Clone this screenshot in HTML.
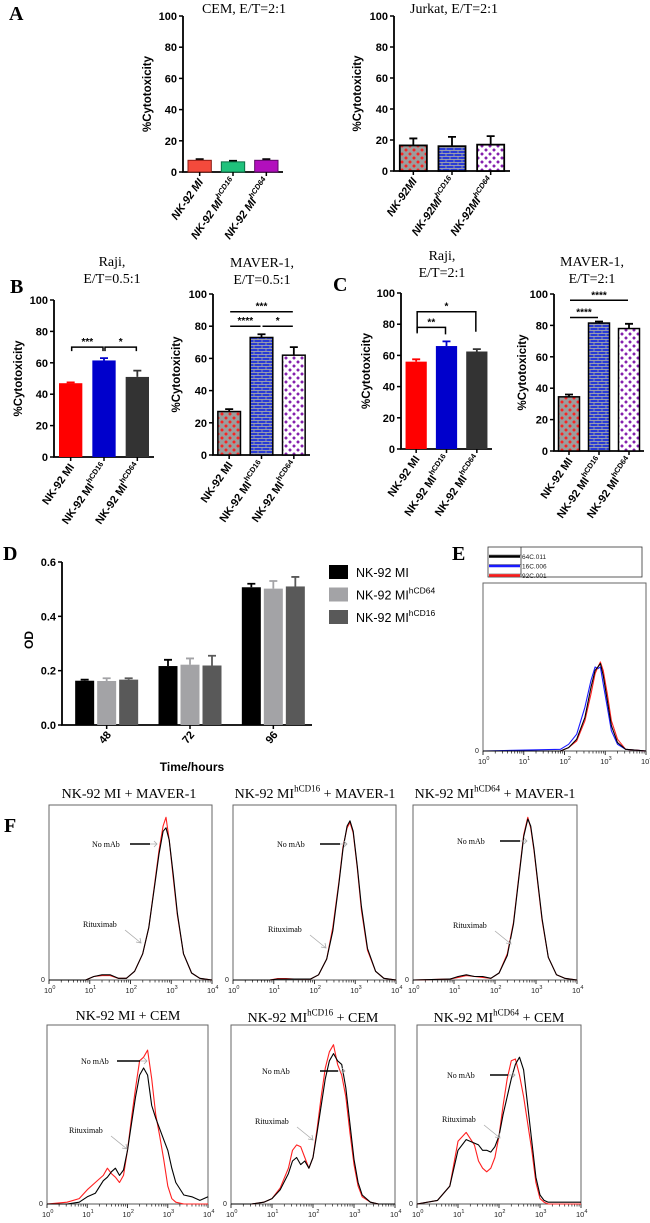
<!DOCTYPE html>
<html><head><meta charset="utf-8"><style>
html,body{margin:0;padding:0;background:#fff}
svg{display:block}
text{font-family:"Liberation Sans",sans-serif}
.serif{font-family:"Liberation Serif",serif}
</style></head><body>
<svg id="fig" width="650" height="1223" viewBox="0 0 650 1223" xmlns="http://www.w3.org/2000/svg">
<defs>
<pattern id="pRed" width="8" height="8" patternUnits="userSpaceOnUse"><rect width="8" height="8" fill="#9c9c9c"/><path d="M2 0.5v3M0.5 2h3M6 4.5v3M4.5 6h3" stroke="#ff1a1a" stroke-width="1.4"/></pattern>
<pattern id="pBlue" width="8" height="6" patternUnits="userSpaceOnUse"><rect width="8" height="6" fill="#2a3bd6"/><path d="M0 0.5h8M0 3.5h8M2 0.5v3M6 3.5v3" stroke="#b9b9a0" stroke-width="0.7"/></pattern>
<pattern id="pPurple" width="8" height="8" patternUnits="userSpaceOnUse"><rect width="8" height="8" fill="#fff"/><path d="M2 0.5v3M0.5 2h3M6 4.5v3M4.5 6h3" stroke="#7d12a8" stroke-width="1.5"/></pattern>
</defs>
</svg>
<script>
// ---------- DATA ----------
const barCats = ['NK-92 MI','NK-92 MI','NK-92 MI'];
const barSups = ['','hCD16','hCD64'];
const aCemVals = [7.5, 6.5, 7.5];
const aCemErrs = [8.2, 7.2, 8.2];
const aJurVals = [16.5, 16, 17];
const aJurErrs = [21, 22, 22.5];
const bRajiVals = [47, 61.5, 51];
const bRajiErrs = [47.5, 63, 55];
const bMavVals = [27, 73, 62];
const bMavErrs = [28.5, 75, 67];
const cRajiVals = [56, 66, 62.5];
const cRajiErrs = [57.5, 69, 64];
const cMavVals = [34.5, 81.5, 78];
const cMavErrs = [36, 82.5, 81];
const pctTicks = [0, 20, 40, 60, 80, 100];

const dTimes = ['48','72','96'];
const dSeries = ['NK-92 MI','NK-92 MI','NK-92 MI'];
const dSeriesSup = ['','hCD64','hCD16'];
const dMI = [0.163, 0.217, 0.507];
const dCD64 = [0.162, 0.222, 0.502];
const dCD16 = [0.167, 0.219, 0.510];
const dMIerr = [0.167, 0.240, 0.520];
const dCD64err = [0.172, 0.245, 0.530];
const dCD16err = [0.172, 0.255, 0.545];
const odTicks = [0, 0.2, 0.4, 0.6];

const eX = [0,1.9,2.1,2.3,2.5,2.65,2.75,2.82,2.88,2.95,3.05,3.15,3.3,3.5,4];
const eBlack = [0,0,0.02,0.07,0.2,0.38,0.48,0.5,0.52,0.45,0.3,0.15,0.05,0.01,0];
const eBlue = [0,0.01,0.04,0.1,0.26,0.42,0.5,0.49,0.5,0.4,0.26,0.12,0.04,0.01,0];
const eRed = [0,0,0.02,0.06,0.18,0.34,0.46,0.5,0.53,0.48,0.34,0.18,0.07,0.01,0];
const eLegend = ['64C.011','16C.006','92C.001'];

const fTopX = [0,0.9,1.1,1.3,1.5,1.7,1.9,2.1,2.3,2.45,2.6,2.7,2.8,2.87,2.95,3.05,3.15,3.3,3.5,3.7,4];
const f1Black = [0,0,0.02,0.03,0.03,0.01,0.01,0.05,0.15,0.3,0.55,0.72,0.85,0.87,0.8,0.6,0.38,0.15,0.04,0.01,0];
const f1Red = [0,0,0.02,0.025,0.025,0.01,0.01,0.05,0.15,0.3,0.56,0.74,0.88,0.93,0.8,0.58,0.37,0.15,0.04,0.01,0];
const f2Black = [0,0,0.005,0.005,0.005,0.005,0.005,0.03,0.12,0.28,0.55,0.75,0.88,0.91,0.85,0.65,0.42,0.18,0.05,0.01,0];
const f2Red = [0,0,0.008,0.008,0.006,0.005,0.005,0.03,0.12,0.3,0.56,0.76,0.87,0.9,0.84,0.64,0.4,0.17,0.05,0.01,0];
const f3Black = [0,0.005,0.02,0.03,0.02,0.02,0.01,0.04,0.14,0.32,0.62,0.82,0.92,0.88,0.75,0.55,0.35,0.13,0.03,0.01,0];
const f3Red = [0,0.005,0.015,0.025,0.02,0.015,0.01,0.04,0.15,0.33,0.63,0.83,0.93,0.87,0.74,0.54,0.34,0.13,0.03,0.01,0];
const fBotX = [0,0.5,0.8,1.0,1.2,1.4,1.5,1.6,1.7,1.8,1.9,2.0,2.1,2.2,2.3,2.4,2.5,2.6,2.7,2.8,2.9,3.0,3.1,3.2,3.4,3.6,3.8,4];
const f4Black = [0,0,0.01,0.04,0.06,0.13,0.15,0.18,0.2,0.16,0.19,0.3,0.45,0.6,0.72,0.76,0.72,0.55,0.48,0.42,0.36,0.3,0.2,0.12,0.05,0.04,0.02,0.04];
const f4Red = [0,0.01,0.03,0.08,0.12,0.16,0.2,0.17,0.15,0.12,0.16,0.3,0.48,0.65,0.8,0.82,0.86,0.7,0.5,0.38,0.25,0.1,0.03,0.01,0,0,0,0];
const f5Black = [0,0,0.01,0.03,0.08,0.17,0.24,0.26,0.22,0.24,0.2,0.26,0.4,0.55,0.7,0.8,0.84,0.8,0.78,0.65,0.45,0.25,0.12,0.05,0.01,0,0,0];
const f5Red = [0,0,0.01,0.03,0.09,0.2,0.3,0.33,0.32,0.26,0.2,0.26,0.42,0.6,0.76,0.85,0.89,0.78,0.72,0.6,0.4,0.22,0.1,0.04,0.01,0,0,0];
const f6Black = [0,0.02,0.1,0.3,0.36,0.34,0.33,0.3,0.3,0.29,0.32,0.38,0.5,0.6,0.7,0.78,0.82,0.75,0.55,0.35,0.15,0.05,0.02,0.01,0.01,0.01,0.01,0.01];
const f6Red = [0,0.02,0.1,0.35,0.4,0.33,0.24,0.2,0.18,0.2,0.26,0.38,0.55,0.7,0.8,0.81,0.72,0.6,0.45,0.3,0.12,0.03,0.01,0,0,0,0,0];

// ---------- HELPERS ----------
const svg = document.getElementById('fig');
const NS = 'http://www.w3.org/2000/svg';
function el(tag, attrs, parent) {
  const e = document.createElementNS(NS, tag);
  for (const k in attrs) e.setAttribute(k, attrs[k]);
  (parent || svg).appendChild(e);
  return e;
}
function txt(str, attrs, parent) {
  const t = el('text', attrs, parent);
  t.textContent = str;
  return t;
}
function supText(base, sup, attrs, supSize, parent) {
  const t = el('text', attrs, parent);
  const a = document.createElementNS(NS, 'tspan'); a.textContent = base; t.appendChild(a);
  if (sup) {
    const b = document.createElementNS(NS, 'tspan');
    b.setAttribute('font-size', supSize);
    b.setAttribute('dy', -supSize * 0.7);
    b.textContent = sup; t.appendChild(b);
  }
  return t;
}
function panelLetter(l, x, y) {
  const t = txt(l, {x: x, y: y, 'font-size': 20, 'font-weight': 'bold', class: 'serif'});
  
  
}

// ---------- BAR CHARTS ----------
function barChart(cfg) {
  const g = el('g', {});
  
  
  const y = v => cfg.y0 - (v / 100) * (cfg.y0 - cfg.y100);
  const band = (cfg.x1 - cfg.x0) / cfg.vals.length;
  const cx = i => cfg.x0 + band * (i + 0.5);
  cfg.title.forEach((line, i) => {
    const t = txt(line, {x: cfg.tx, y: cfg.ty + i * 17, 'font-size': 14, 'text-anchor': 'middle', class: 'serif'}, g);
    
    
  });
  const axis = el('path', {d: `M${cfg.x0} ${cfg.y100}V${cfg.y0}H${cfg.x1}`, fill: 'none', stroke: '#000', 'stroke-width': 1.8}, g);
  
  
  pctTicks.forEach(v => {
    el('line', {x1: cfg.x0 - 4, x2: cfg.x0, y1: y(v), y2: y(v), stroke: '#000', 'stroke-width': 1.5}, g);
    const t = txt(String(v), {x: cfg.x0 - 6, y: y(v) + 4, 'font-size': 11, 'font-weight': 'bold', 'text-anchor': 'end'}, g);
    
    
  });
  const yl = txt('%Cytotoxicity', {x: 0, y: 0, 'font-size': 11.5, 'font-weight': 'bold', 'text-anchor': 'middle', transform: `translate(${cfg.ylx},${(cfg.y0 + cfg.y100) / 2}) rotate(-90)`}, g);
  
  
  const w = band * 0.7;
  cfg.vals.forEach((v, i) => {
    const eb = el('path', {d: `M${cx(i)} ${y(v)}V${y(cfg.errs[i])}M${cx(i) - 4} ${y(cfg.errs[i])}H${cx(i) + 4}`, stroke: cfg.errColor ? cfg.errColor[i] : '#000', 'stroke-width': 1.8, fill: 'none'}, g);
    
    
    const r = el('rect', {x: cx(i) - w / 2, y: y(v), width: w, height: y(0) - y(v), fill: cfg.fills[i], stroke: cfg.stroke ? cfg.stroke[i] : 'none', 'stroke-width': cfg.sw || 1.5}, g);
    
    
    el('line', {x1: cx(i), x2: cx(i), y1: cfg.y0, y2: cfg.y0 + 4, stroke: '#000', 'stroke-width': 1.5}, g);
    const base = cfg.noSpace ? barCats[i].replace(' MI', 'MI') : barCats[i];
    const lab = supText(base, barSups[i], {x: 0, y: 0, 'font-size': 11, 'font-weight': 'bold', 'font-style': cfg.italic ? 'italic' : 'normal', 'text-anchor': 'end', transform: `translate(${cx(i) + 4},${cfg.y0 + 10}) rotate(-55)`}, 7.5, g);
    
    
  });
  (cfg.sig || []).forEach(s => {
    const [i, j, val, label, legL, legR] = s;
    const yy = y(val);
    const xa = cx(i) + 1, xb = cx(j) - 1;
    const br = el('path', {d: `M${xa} ${yy + legL}V${yy}H${xb}V${yy + legR}`, fill: 'none', stroke: '#000', 'stroke-width': 1.5}, g);
    
    
    const st = txt(label, {x: (xa + xb) / 2, y: yy - 2, 'font-size': 10, 'font-weight': 'bold', 'text-anchor': 'middle'}, g);
    
    
  });
}

panelLetter('A', 9, 20);
barChart({name: 'cem-chart', x0: 183, x1: 283, y100: 16, y0: 172, vals: aCemVals, errs: aCemErrs, fills: ['#f44a3c', '#1fc27c', '#b20fbd'], stroke: ['#8a1c14', '#0b6e44', '#5e0a66'], sw: 1, italic: true, title: ['CEM, E/T=2:1'], tx: 244, ty: 13, ylx: 151});
barChart({name: 'jurkat-chart', x0: 394, x1: 510, y100: 16, y0: 171, vals: aJurVals, errs: aJurErrs, fills: ['url(#pRed)', 'url(#pBlue)', 'url(#pPurple)'], stroke: ['#000', '#000', '#000'], sw: 1.8, italic: true, noSpace: true, title: ['Jurkat, E/T=2:1'], tx: 454, ty: 13, ylx: 361});

panelLetter('B', 10, 293);
barChart({name: 'raji-b-chart', x0: 54, x1: 154, y100: 300, y0: 457, vals: bRajiVals, errs: bRajiErrs, fills: ['#ff0000', '#0000cc', '#333333'], errColor: ['#ff0000', '#0000cc', '#333'], title: ['Raji,', 'E/T=0.5:1'], tx: 112, ty: 266, ylx: 22,
  sig: [[0, 1, 70, '***', 4, 4], [1, 2, 70, '*', 4, 4]]});
barChart({name: 'maver-b-chart', x0: 213, x1: 310, y100: 294, y0: 455, vals: bMavVals, errs: bMavErrs, fills: ['url(#pRed)', 'url(#pBlue)', 'url(#pPurple)'], stroke: ['#000', '#000', '#000'], title: ['MAVER-1,', 'E/T=0.5:1'], tx: 262, ty: 267, ylx: 180,
  sig: [[0, 2, 89, '***', 0, 0], [0, 1, 80, '****', 0, 0], [1, 2, 80, '*', 0, 0]]});
panelLetter('C', 333, 291);
barChart({name: 'raji-c-chart', x0: 401, x1: 492, y100: 293, y0: 449, vals: cRajiVals, errs: cRajiErrs, fills: ['#ff0000', '#0000cc', '#333333'], errColor: ['#ff0000', '#0000cc', '#333'], title: ['Raji,', 'E/T=2:1'], tx: 442, ty: 260, ylx: 370,
  sig: [[0, 2, 88, '*', 20, 20], [0, 1, 78, '**', 6, 7]]});
barChart({name: 'maver-c-chart', x0: 554, x1: 644, y100: 294, y0: 451, vals: cMavVals, errs: cMavErrs, fills: ['url(#pRed)', 'url(#pBlue)', 'url(#pPurple)'], stroke: ['#000', '#000', '#000'], title: ['MAVER-1,', 'E/T=2:1'], tx: 592, ty: 266, ylx: 526,
  sig: [[0, 2, 96, '****', 0, 0], [0, 1, 85, '****', 0, 0]]});

// ---------- PANEL D ----------
panelLetter('D', 3, 560);
(function () {
  const g = el('g', {});
  
  
  const x0 = 62, x1 = 312, yTop = 562, y0 = 725;
  const y = v => y0 - v / 0.6 * (y0 - yTop);
  const band = (x1 - x0) / dTimes.length;
  const gc = i => x0 + band * (i + 0.5) + 3;
  const series = [dMI, dCD64, dCD16];
  const errs = [dMIerr, dCD64err, dCD16err];
  const cols = ['#000000', '#a3a3a6', '#595959'];
  const ax = el('path', {d: `M${x0} ${yTop}V${y0}H${x1}`, fill: 'none', stroke: '#000', 'stroke-width': 1.8}, g);
  
  
  odTicks.forEach(v => {
    el('line', {x1: x0 - 4, x2: x0, y1: y(v), y2: y(v), stroke: '#000', 'stroke-width': 1.5}, g);
    const t = txt(v.toFixed(1), {x: x0 - 6, y: y(v) + 4, 'font-size': 11, 'font-weight': 'bold', 'text-anchor': 'end'}, g);
    
    
  });
  const bw = 19, step = 22;
  dTimes.forEach((tm, i) => {
    series.forEach((s, k) => {
      const cx = gc(i) + (k - 1) * step;
      const eb = el('path', {d: `M${cx} ${y(s[i])}V${y(errs[k][i])}M${cx - 4} ${y(errs[k][i])}H${cx + 4}`, stroke: cols[k], 'stroke-width': 1.8, fill: 'none'}, g);
      
      
      const r = el('rect', {x: cx - bw / 2, y: y(s[i]), width: bw, height: y0 - y(s[i]), fill: cols[k]}, g);
      
      
    });
    el('line', {x1: gc(i), x2: gc(i), y1: y0, y2: y0 + 4, stroke: '#000', 'stroke-width': 1.5}, g);
    const t = txt(tm, {x: 0, y: 0, 'font-size': 11, 'font-weight': 'bold', 'text-anchor': 'end', transform: `translate(${gc(i) + 5},${y0 + 10}) rotate(-50)`}, g);
    
    
  });
  const xt = txt('Time/hours', {x: 192, y: 771, 'font-size': 12, 'font-weight': 'bold', 'text-anchor': 'middle'}, g);
  
  
  const yt = txt('OD', {x: 0, y: 0, 'font-size': 12, 'font-weight': 'bold', 'text-anchor': 'middle', transform: 'translate(33,640) rotate(-90)'}, g);
  
  
  dSeries.forEach((s, k) => {
    const ly = 572 + k * 22.5;
    const sw = el('rect', {x: 329, y: ly - 7, width: 19, height: 14, fill: cols[k]}, g);
    
    
    const lt = supText(s, dSeriesSup[k], {x: 356, y: ly + 5, 'font-size': 12.5}, 8.5, g);
    
    
  });
})();

// ---------- FLOW HISTOGRAMS ----------
function logAxis(g, x0, x1, yb) {
  const X = l => x0 + (l / 4) * (x1 - x0);
  el('line', {x1: x0, x2: x1, y1: yb, y2: yb, stroke: '#555', 'stroke-width': 1}, g);
  for (let d = 0; d <= 4; d++) {
    el('line', {x1: X(d), x2: X(d), y1: yb, y2: yb + 4, stroke: '#333', 'stroke-width': 1}, g);
    const t = supText('10', String(d), {x: X(d) - 5, y: yb + 13, 'font-size': 7.5, fill: '#222'}, 5.5, g);
    
    
    if (d < 4) for (let m = 2; m <= 9; m++) {
      const xm = X(d + Math.log10(m));
      el('line', {x1: xm, x2: xm, y1: yb, y2: yb + 2.5, stroke: '#333', 'stroke-width': 0.8}, g);
    }
  }
  const z = txt('0', {x: x0 - 8, y: yb + 2, 'font-size': 7, fill: '#222'}, g);
  
  
}
function curve(g, xs, ys, x0, x1, yb, h, color, name) {
  const pts = xs.map((l, i) => (x0 + l / 4 * (x1 - x0)).toFixed(1) + ',' + (yb - ys[i] * h).toFixed(1)).join(' ');
  const p = el('polyline', {points: pts, fill: 'none', stroke: color, 'stroke-width': 1.1, 'stroke-linejoin': 'round'}, g);
  
  
}
function flowPanel(cfg) {
  const g = el('g', {});
  
  
  const box = el('rect', {x: cfg.x0, y: cfg.yt, width: cfg.x1 - cfg.x0, height: cfg.yb - cfg.yt, fill: '#fff', stroke: '#666', 'stroke-width': 1}, g);
  
  
  logAxis(g, cfg.x0, cfg.x1, cfg.yb);
  const h = cfg.yb - cfg.yt;
  cfg.curves.forEach(c => curve(g, cfg.xs, c[0], cfg.x0, cfg.x1, cfg.yb, h, c[1], c[2]));
  if (cfg.title) {
    const t = supText(cfg.title[0], cfg.title[1], {x: cfg.tx, y: cfg.ty, 'font-size': 14, 'text-anchor': 'middle', class: 'serif'}, 9, g);
    if (cfg.title[2]) { const s = document.createElementNS(NS, 'tspan'); s.setAttribute('dy', 6.3); s.textContent = cfg.title[2]; t.appendChild(s); }
    
    
  }
  if (cfg.nm) {
    const [nx, ny, lx1, lx2, rx, ry] = cfg.nm;
    const a = txt('No mAb', {x: nx, y: ny, 'font-size': 8, class: 'serif'}, g);
    
    
    const l = el('line', {x1: lx1, x2: lx2, y1: ny - 3, y2: ny - 3, stroke: '#000', 'stroke-width': 1.4}, g);
    
    
    el('path', {d: `M${lx2} ${ny - 3}L${lx2 + 7} ${ny - 3}M${lx2 + 4} ${ny - 6}L${lx2 + 7} ${ny - 3}L${lx2 + 4} ${ny}`, fill: 'none', stroke: '#aaa', 'stroke-width': 0.8}, g);
    const b = txt('Rituximab', {x: rx, y: ry, 'font-size': 8, class: 'serif'}, g);
    
    
    const ar = el('path', {d: `M${rx + 42} ${ry + 3}L${rx + 58} ${ry + 16}M${rx + 53} ${ry + 15}L${rx + 58} ${ry + 16}L${rx + 57} ${ry + 11}`, fill: 'none', stroke: '#aaa', 'stroke-width': 0.8}, g);
    
    
  }
}

panelLetter('E', 452, 560);
(function () {
  const g = el('g', {});
  
  
  el('rect', {x: 488, y: 547, width: 154, height: 30, fill: '#fff', stroke: '#333', 'stroke-width': 0.8}, g);
  el('line', {x1: 521, x2: 521, y1: 547, y2: 577, stroke: '#333', 'stroke-width': 0.8}, g);
  const cs = ['#000', '#1a1aff', '#ff1a1a'];
  eLegend.forEach((s, k) => {
    const yy = 553 + k * 9.5;
    el('line', {x1: 489, x2: 521, y1: yy + 2, y2: yy + 2, stroke: '#333', 'stroke-width': 0.5}, g);
    el('line', {x1: 489, x2: 520, y1: yy + 3.5, y2: yy + 3.5, stroke: cs[k], 'stroke-width': 2.4}, g);
    const t = txt(s, {x: 522, y: yy + 6, 'font-size': 6.5, fill: '#222'}, g);
    
    
  });
})();
flowPanel({name: 'e-histogram', x0: 483, x1: 646, yt: 583, yb: 751, xs: eX,
  curves: [[eBlue, '#1a1aff', 'curve-16c'], [eRed, '#ff2020', 'curve-92c'], [eBlack, '#000', 'curve-64c']]});

panelLetter('F', 4, 832);
flowPanel({name: 'f-mi-maver', x0: 49, x1: 212, yt: 805, yb: 980, xs: fTopX, curves: [[f1Red, '#ff2020', 'curve-rituximab'], [f1Black, '#000', 'curve-no-mab']],
  title: ['NK-92 MI + MAVER-1', ''], tx: 129, ty: 798, nm: [92, 847, 130, 150, 83, 927]});
flowPanel({name: 'f-cd16-maver', x0: 233, x1: 396, yt: 805, yb: 980, xs: fTopX, curves: [[f2Red, '#ff2020', 'curve-rituximab'], [f2Black, '#000', 'curve-no-mab']],
  title: ['NK-92 MI', 'hCD16', ' + MAVER-1'], tx: 315, ty: 798, nm: [277, 847, 320, 340, 268, 932]});
flowPanel({name: 'f-cd64-maver', x0: 413, x1: 577, yt: 805, yb: 980, xs: fTopX, curves: [[f3Red, '#ff2020', 'curve-rituximab'], [f3Black, '#000', 'curve-no-mab']],
  title: ['NK-92 MI', 'hCD64', ' + MAVER-1'], tx: 495, ty: 798, nm: [457, 844, 500, 520, 453, 928]});
flowPanel({name: 'f-mi-cem', x0: 47, x1: 208, yt: 1025, yb: 1204, xs: fBotX, curves: [[f4Red, '#ff2020', 'curve-rituximab'], [f4Black, '#000', 'curve-no-mab']],
  title: ['NK-92 MI + CEM', ''], tx: 128, ty: 1020, nm: [81, 1064, 117, 140, 69, 1133]});
flowPanel({name: 'f-cd16-cem', x0: 231, x1: 395, yt: 1025, yb: 1204, xs: fBotX, curves: [[f5Red, '#ff2020', 'curve-rituximab'], [f5Black, '#000', 'curve-no-mab']],
  title: ['NK-92 MI', 'hCD16', ' + CEM'], tx: 313, ty: 1022, nm: [262, 1074, 320, 338, 255, 1124]});
flowPanel({name: 'f-cd64-cem', x0: 417, x1: 581, yt: 1025, yb: 1204, xs: fBotX, curves: [[f6Red, '#ff2020', 'curve-rituximab'], [f6Black, '#000', 'curve-no-mab']],
  title: ['NK-92 MI', 'hCD64', ' + CEM'], tx: 499, ty: 1022, nm: [447, 1078, 490, 508, 442, 1122]});
</script>
</body></html>
